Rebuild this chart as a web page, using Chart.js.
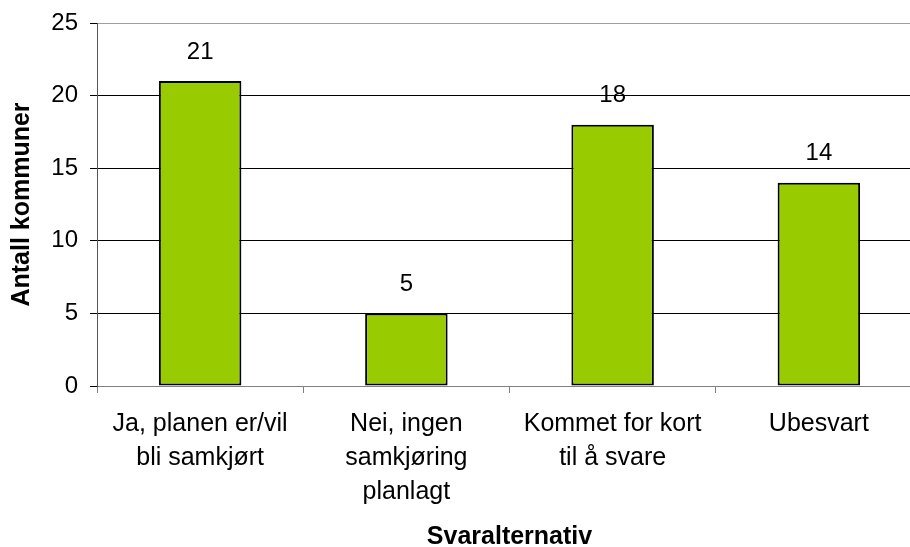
<!DOCTYPE html>
<html>
<head>
<meta charset="utf-8">
<script src="https://cdn.jsdelivr.net/npm/chart.js@4"></script>
<style>
  html, body { margin: 0; padding: 0; background: #fff; overflow: hidden; }
  #wrap { width: 925px; height: 547px; }
</style>
</head>
<body>
<div id="wrap"><canvas id="chart" width="925" height="547"></canvas></div>
<script>
// data
const categories = [
    ['Ja, planen er/vil', 'bli samkjørt'],
    ['Nei, ingen', 'samkjøring', 'planlagt'],
    ['Kommet for kort', 'til å svare'],
    ['Ubesvart']
];
const counts = [21, 5, 18, 14];
const yTicks = [0, 5, 10, 15, 20, 25];

const FONT = "'Liberation Sans', Arial, sans-serif";

// value labels above each bar
const barLabels = {
    id: 'barLabels',
    afterDatasetsDraw(chart) {
        const ctx = chart.ctx;
        const meta = chart.getDatasetMeta(0);
        ctx.save();
        ctx.font = '24px ' + FONT;
        ctx.fillStyle = '#000';
        ctx.textAlign = 'center';
        ctx.textBaseline = 'middle';
        meta.data.forEach((bar, i) => {
            ctx.fillText(String(counts[i]), bar.x, bar.y - 29);
        });
        ctx.restore();
    }
};

new Chart(document.getElementById('chart'), {
    type: 'bar',
    data: {
        labels: categories,
        datasets: [{
            data: counts,
            backgroundColor: '#99CC00',
            borderColor: '#000',
            borderWidth: 2,
            borderSkipped: false,
            barPercentage: 0.4,
            categoryPercentage: 1
        }]
    },
    options: {
        responsive: false,
        animation: false,
        layout: { padding: { top: 23, right: 3, bottom: 0, left: 0 } },
        plugins: {
            legend: { display: false },
            tooltip: { enabled: false }
        },
        scales: {
            x: {
                offset: true,
                afterFit(scale) { scale.height = 161; },
                grid: {
                    drawOnChartArea: false,
                    drawTicks: true,
                    tickLength: 7,
                    tickColor: '#808080',
                    offset: true
                },
                border: { color: '#808080', width: 1 },
                ticks: {
                    color: '#000',
                    padding: 14,
                    maxRotation: 0,
                    autoSkip: false,
                    font: { family: FONT, size: 25, lineHeight: '34px' }
                },
                title: {
                    display: true,
                    text: 'Svaralternativ',
                    color: '#000',
                    padding: { top: 0, bottom: -2.5 },
                    font: { family: FONT, size: 25, weight: 'bold', lineHeight: 1 }
                }
            },
            y: {
                min: 0,
                max: 25,
                afterFit(scale) {
                    scale.width = 97;
                    // tick padding would otherwise push the plot top down
                    scale.paddingTop = 0;
                    scale.paddingBottom = 0;
                },
                afterBuildTicks(scale) { scale.ticks = yTicks.map(v => ({ value: v })); },
                grid: {
                    color: (c) => c.tick && c.tick.value === 25 ? '#a0a0a0' : (c.tick && c.tick.value === 0 ? '#808080' : '#000'),
                    lineWidth: 1,
                    tickLength: 7,
                    tickColor: '#000'
                },
                border: { color: '#555', width: 1 },
                ticks: {
                    color: '#000',
                    padding: 12,
                    font: { family: FONT, size: 24 }
                },
                title: {
                    display: true,
                    text: 'Antall kommuner',
                    color: '#000',
                    padding: { top: 9.5, bottom: 0 },
                    font: { family: FONT, size: 25, weight: 'bold', lineHeight: 1 }
                }
            }
        }
    },
    plugins: [barLabels]
});
</script>
</body>
</html>
